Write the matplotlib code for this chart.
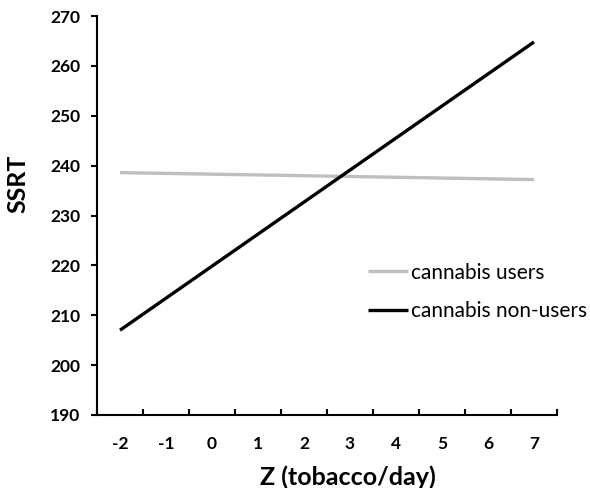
import numpy as np
import matplotlib.pyplot as plt

# x categories (tobacco/day, z-scored)
z_labels = ['-2', '-1', '0', '1', '2', '3', '4', '5', '6', '7']
z_ends = [-2, 7]

# SSRT at the two ends of each fitted line
users = [238.6, 237.2]
non_users = [207.0, 264.8]

plt.rcParams['font.family'] = ['Lato', 'DejaVu Sans']

fig = plt.figure(figsize=(5.9, 4.88), dpi=100)
ax = fig.add_axes([0.1644, 0.1496, 0.7797, 0.8176])

ax.plot(z_ends, users, color='#bfbfbf', lw=2.4, solid_capstyle='butt', label='cannabis users')
ax.plot(z_ends, non_users, color='black', lw=2.4, solid_capstyle='butt', label='cannabis non-users')

ax.set_xlim(-2.5, 7.5)
ax.set_ylim(190, 270)
ax.set_yticks(np.arange(190, 271, 10))
ax.set_xticks([int(s) for s in z_labels])
ax.set_xticklabels(z_labels)
# category boundary ticks like a spreadsheet category axis
ax.set_xticks(np.arange(-2.5, 7.6, 1), minor=True)
ax.tick_params(axis='x', which='major', length=0, pad=15, labelsize=12.5)
ax.tick_params(axis='x', which='minor', direction='in', length=4, width=1.5)
ax.tick_params(axis='y', direction='out', length=4, width=1.5, labelsize=12.5, pad=8)
for lab in ax.get_xticklabels() + ax.get_yticklabels():
    lab.set_fontweight('bold')

for s in ['top', 'right']:
    ax.spines[s].set_visible(False)
for s in ['left', 'bottom']:
    ax.spines[s].set_linewidth(1.5)

ax.set_ylabel('SSRT', fontsize=18, fontweight='bold', labelpad=15, y=0.579)
ax.set_xlabel('Z (tobacco/day)', fontsize=18, fontweight='bold', labelpad=10, x=0.546)

ax.legend(loc='upper left', bbox_to_anchor=(0.624, 0.462), bbox_transform=fig.transFigure,
          frameon=False, fontsize=15, handlelength=1.9, handletextpad=0.15, labelspacing=0.9,
          borderaxespad=0, borderpad=0)

fig.savefig('out.png', dpi=100)
